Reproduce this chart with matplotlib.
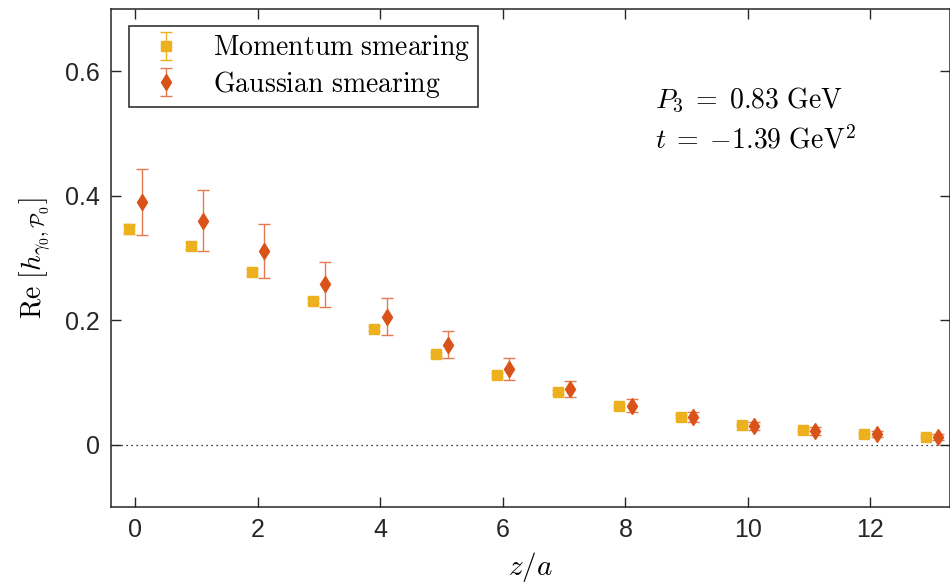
import matplotlib
matplotlib.use("Agg")
import matplotlib.pyplot as plt
import numpy as np

plt.rcParams["mathtext.fontset"] = "cm"
plt.rcParams["font.family"] = ["Liberation Sans", "DejaVu Sans"]

# z/a separations
z = np.arange(0, 14)

# Momentum smearing
mom_val = [0.346, 0.320, 0.277, 0.231, 0.186, 0.146, 0.112, 0.085, 0.063, 0.045,
           0.032, 0.024, 0.017, 0.013]
mom_err = [0.008, 0.006, 0.005, 0.004, 0.004, 0.003, 0.003, 0.003, 0.002, 0.002,
           0.002, 0.002, 0.002, 0.002]

# Gaussian smearing
gau_val = [0.390, 0.360, 0.311, 0.258, 0.206, 0.161, 0.122, 0.089, 0.063, 0.044,
           0.030, 0.022, 0.017, 0.013]
gau_err = [0.053, 0.049, 0.043, 0.036, 0.029, 0.022, 0.018, 0.013, 0.010, 0.008,
           0.006, 0.006, 0.005, 0.005]

c_mom = "#EDB120"
c_gau = "#D95319"

fig = plt.figure(figsize=(9.5, 5.87), dpi=100)
ax = fig.add_axes([0.1168, 0.1363, 0.8832, 0.8484])

ax.axhline(0, color="black", lw=0.9, ls=(0, (1, 3)), zorder=1)

ax.errorbar(z - 0.1, mom_val, yerr=mom_err, fmt="s", color=c_mom, ms=6.5,
            mec=c_mom, ecolor=c_mom, elinewidth=1.0, capsize=4, capthick=1.0,
            label=r"$\mathrm{Momentum\ smearing}$", zorder=3)
ax.errorbar(z + 0.1, gau_val, yerr=gau_err, fmt="d", color=c_gau, ms=8.5,
            mec=c_gau, ecolor="#E57A50", elinewidth=1.0, capsize=4,
            capthick=1.0, label=r"$\mathrm{Gaussian\ smearing}$", zorder=3)

ax.set_xlim(-0.4, 13.3)
ax.set_ylim(-0.1, 0.7)
ax.set_xticks([0, 2, 4, 6, 8, 10, 12])
ax.set_yticks([0, 0.2, 0.4, 0.6])
ax.set_xticklabels(["0", "2", "4", "6", "8", "10", "12"])
ax.set_yticklabels(["0", "0.2", "0.4", "0.6"])

ax.tick_params(direction="in", length=7, width=1.0, top=True, right=True,
               labelsize=18, colors="#262626", pad=8)
for s in ax.spines.values():
    s.set_linewidth(1.1)
    s.set_color("#262626")

ax.set_xlabel(r"$z/a$", fontsize=21, labelpad=6)
ax.set_ylabel(r"$\mathrm{Re}\ [h_{\gamma_0,\mathcal{P}_0}]$", fontsize=20, labelpad=8)

ax.text(0.648, 0.817, r"$P_3\;=\;0.83\ \mathrm{GeV}$", transform=ax.transAxes,
        fontsize=20, va="center", ha="left")
ax.text(0.648, 0.737, r"$t\;=\;{-}1.39\ \mathrm{GeV}^2$", transform=ax.transAxes,
        fontsize=20, va="center", ha="left")

leg = ax.legend(loc="upper left", bbox_to_anchor=(0.021, 0.965), fontsize=20,
                frameon=True, fancybox=False, edgecolor="black",
                borderpad=0.25, handletextpad=0.6, labelspacing=0.2,
                handlelength=2.2, borderaxespad=0)
leg.get_frame().set_linewidth(1.2)

fig.savefig("out.png", dpi=100)
